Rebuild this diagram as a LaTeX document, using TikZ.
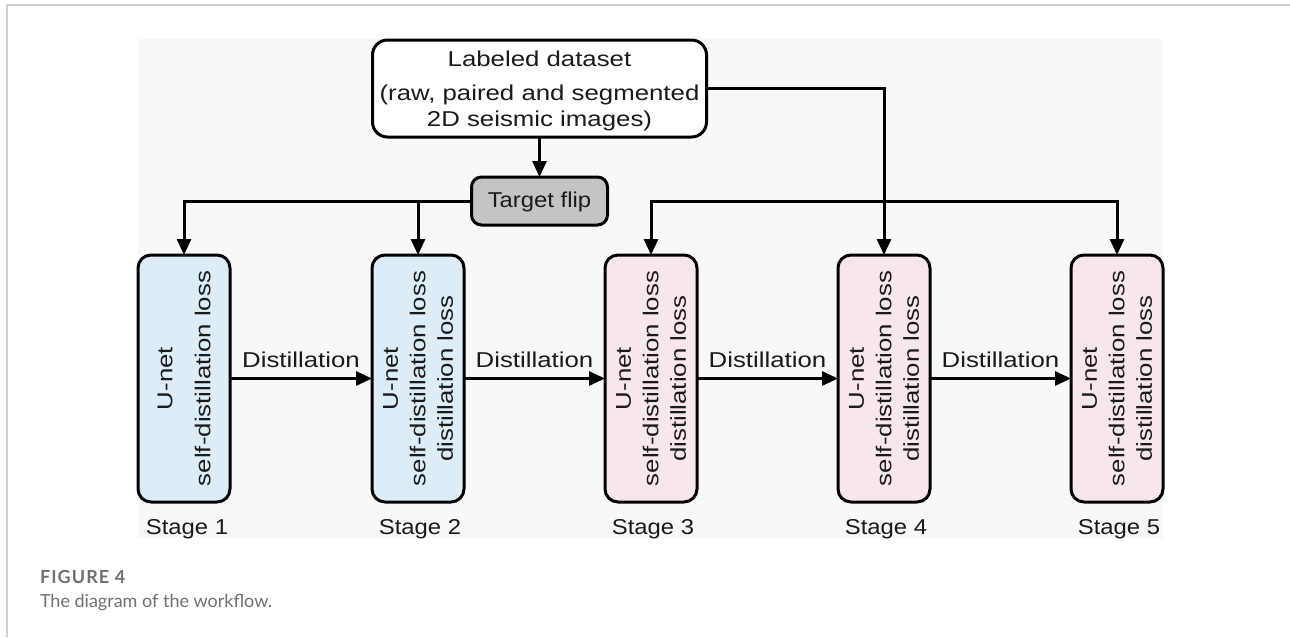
\documentclass[tikz,border=0pt]{standalone}
\usepackage{fontspec}
\setmainfont{Liberation Sans}
\newfontfamily\diagfont[FakeStretch=1.2]{Liberation Sans}
\newfontfamily\tagfont[FakeStretch=1.11]{Liberation Sans}
\newfontfamily\capfont{Lato}
\newfontfamily\capfontwide[LetterSpace=6]{Lato}
\usetikzlibrary{arrows.meta}
\definecolor{panelbg}{HTML}{F8F8F8}
\definecolor{stageblue}{HTML}{DDEDF8}
\definecolor{stagepink}{HTML}{F8E6EE}
\definecolor{flipgray}{HTML}{C4C4C4}
\definecolor{framegray}{HTML}{D0D0D0}
\definecolor{captext}{HTML}{707070}
\definecolor{ink}{HTML}{1A1A1A}
\begin{document}
\begin{tikzpicture}[x=1pt,y=-1pt,
  every node/.style={inner sep=0pt,outer sep=0pt,text=ink},
  tip/.style={-{Triangle[length=16pt,width=14pt]}},
  conn/.style={line width=3pt,line join=miter,tip},
  mainfont/.style={font=\diagfont\fontsize{21.5}{27.5}\selectfont},
  labelfont/.style={font=\tagfont\fontsize{21.5}{27}\selectfont},
  stagebox/.style={draw,line width=3pt,rounded corners=13pt,
    minimum width=92pt,minimum height=247pt},
  bluebox/.style={stagebox,fill=stageblue},
  pinkbox/.style={stagebox,fill=stagepink},
  boxtext/.style={mainfont,rotate=90,align=center},
  stagelabel/.style={labelfont,anchor=base},
  captionstyle/.style={text=captext,anchor=base west},
]
\useasboundingbox (0,0) rectangle (1290,637);
\fill[white] (0,0) rectangle (1290,637);
% page frame and diagram background
\draw[framegray,line width=2pt] (7,637) -- (7,5) -- (1290,5);
\fill[panelbg] (138,39) rectangle (1163,538);

% source data and flip
\node[draw,line width=3pt,rounded corners=15pt,fill=white,
  minimum width=334pt,minimum height=97pt] (data) at (539.5,88.5) {};
\node[mainfont,anchor=base] (dataA) at (539.5,66.7) {Labeled dataset};
\node[mainfont,anchor=base] (dataB) at (539.5,100.5) {(raw, paired and segmented};
\node[mainfont,anchor=base] (dataC) at (539.5,126) {2D seismic images)};

\node[draw,line width=3pt,rounded corners=10pt,fill=flipgray,
  minimum width=136pt,minimum height=48pt] (flip) at (539.5,201) {};
\node[labelfont,anchor=base] (flipT) at (539.5,207) {Target flip};

% stages
\node[bluebox] (s1) at (184,378.5) {};
\node[bluebox] (s2) at (418,378.5) {};
\node[pinkbox] (s3) at (651,378.5) {};
\node[pinkbox] (s4) at (884,378.5) {};
\node[pinkbox] (s5) at (1117,378.5) {};

\node[boxtext,font=\diagfont\fontsize{21.5}{38}\selectfont] (t1) at (s1) {U-net\\self-distillation loss};
\node[boxtext] (t2) at (s2) {U-net\\self-distillation loss\\distillation loss};
\node[boxtext] (t3) at (s3) {U-net\\self-distillation loss\\distillation loss};
\node[boxtext] (t4) at (s4) {U-net\\self-distillation loss\\distillation loss};
\node[boxtext] (t5) at (s5) {U-net\\self-distillation loss\\distillation loss};

\node[stagelabel] (l1) at (187,534) {Stage 1};
\node[stagelabel] (l2) at (420,534) {Stage 2};
\node[stagelabel] (l3) at (653,534) {Stage 3};
\node[stagelabel] (l4) at (886,534) {Stage 4};
\node[stagelabel] (l5) at (1119,534) {Stage 5};

% connectors
\draw[conn] (data) -- (flip);
\draw[conn] (flip.west) -| (s1.north);
\draw[conn] (flip.west -| s2.north) -- (s2.north);
\draw[conn] (data.east) -| (s4.north);
\draw[line width=3pt,line join=miter,
  {Triangle[length=16pt,width=14pt]}-{Triangle[length=16pt,width=14pt]}]
  (s3.north) |- (s5.north |- flip.west) -- (s5.north);

\foreach \a/\b/\n in {s1/s2/d1,s2/s3/d2,s3/s4/d3,s4/s5/d4}{
  \draw[conn] (\a.east) -- (\b.west);
  \path (\a.east) -- (\b.west)
    node[midway,mainfont,anchor=base,yshift=11.5pt] (\n) {Distillation};
}

% caption
\node[captionstyle,font=\capfontwide\bfseries\fontsize{18}{20}\selectfont] (fig) at (40,583) {FIGURE 4};
\node[captionstyle,font=\capfont\fontsize{18}{20}\selectfont] (cap) at (40,607) {The diagram of the workflow.};
\end{tikzpicture}
\end{document}
